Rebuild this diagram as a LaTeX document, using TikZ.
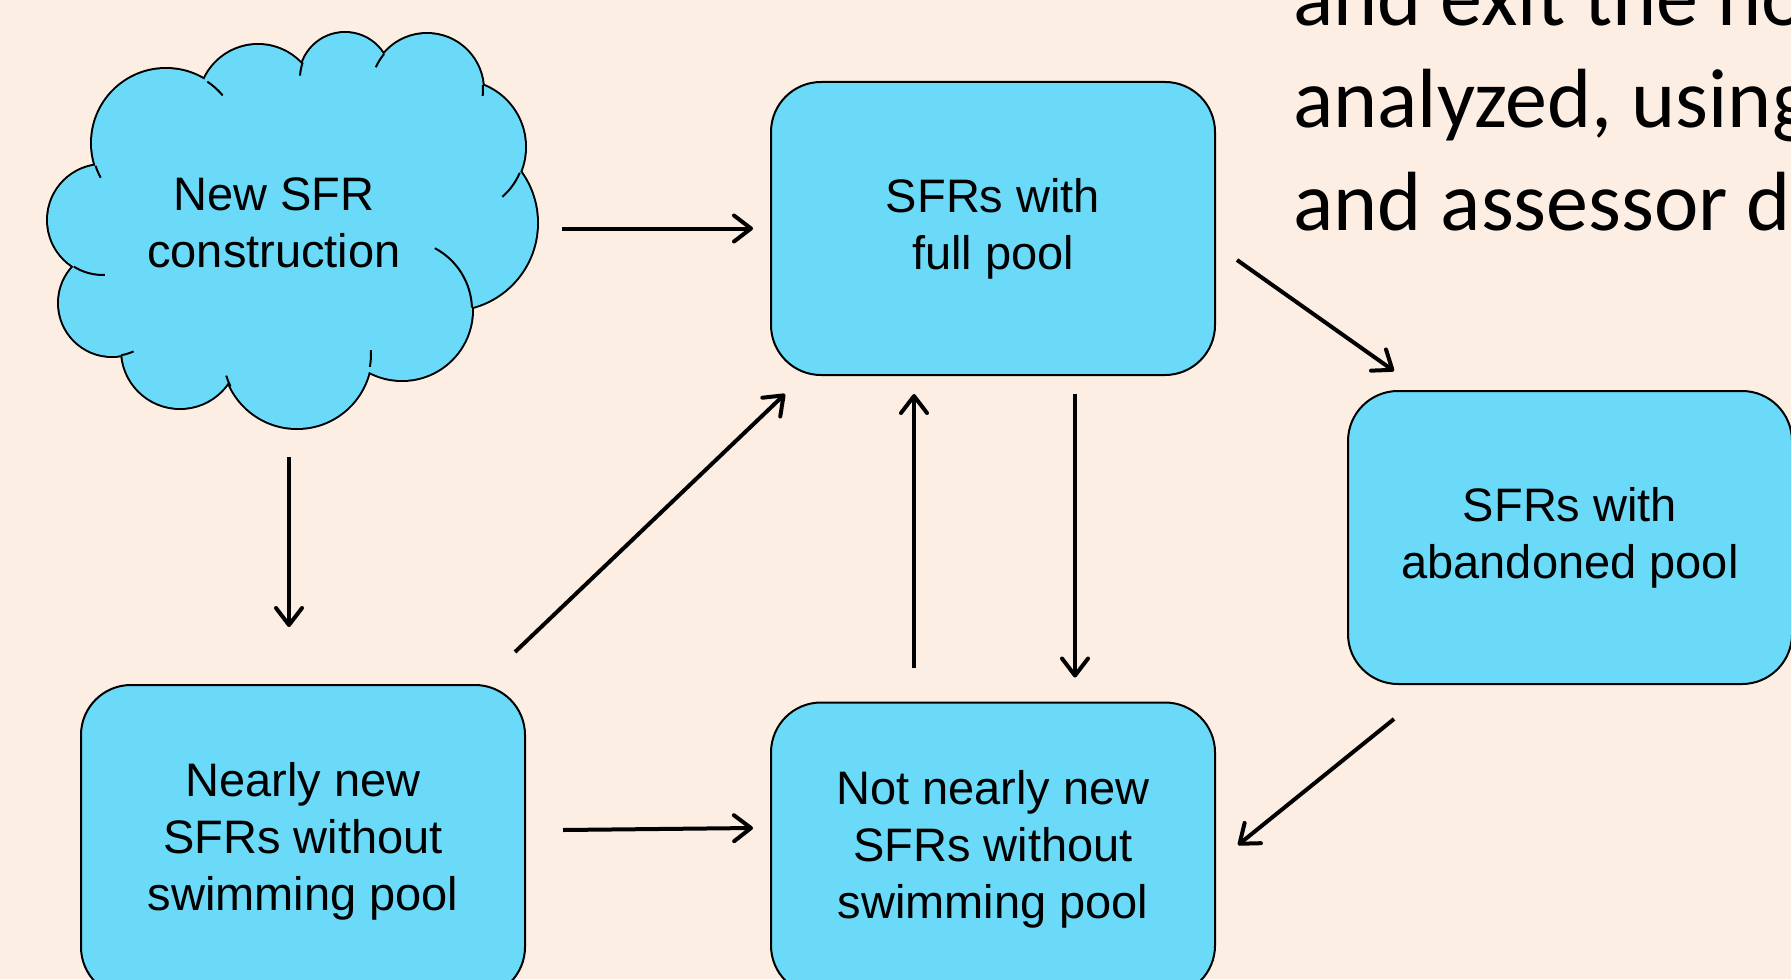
\documentclass[tikz,border=0pt]{standalone}
\usepackage{fontspec}
\setmainfont{Liberation Sans}
\newfontfamily\calib{Carlito}
\usetikzlibrary{arrows.meta}
\definecolor{bgpeach}{RGB}{253,238,228}
\definecolor{poolblue}{RGB}{106,218,248}
\tikzset{
  stock/.style={draw,fill=poolblue,line width=1pt,rounded corners=25pt,
    minimum width=222pt,minimum height=146.5pt,align=center,
    font=\fontsize{23.5}{28.5}\selectfont},
  flow/.style={line width=2pt,-{Straight Barb[length=8.5pt,width=13pt,round]}},
}
\begin{document}
\begin{tikzpicture}[x=0.5pt,y=-0.5pt]
\useasboundingbox (0,0) rectangle (1791,979);
\fill[bgpeach] (0,0) rectangle (1791,979);
\clip (0,0) rectangle (1791,979);

% cloud: union of puffs, outline first then fill on top
\foreach \cx/\cy/\r in {166/143/74,258/104/59,345/78/45,427/90/56,459/147/66,
    450/223/87,402/310/70,297/354/74,180/350/58,112/303/53,103/220/55}
  \draw[line width=2pt] (\cx,\cy) circle[radius=\r];
\foreach \cx/\cy/\r in {166/143/74,258/104/59,345/78/45,427/90/56,459/147/66,
    450/223/87,402/310/70,297/354/74,180/350/58,112/303/53,103/220/55}
  \fill[poolblue] (\cx,\cy) circle[radius=\r];
\fill[poolblue] (166,143) -- (258,104) -- (345,78) -- (427,90) -- (459,147) -- (450,223)
  -- (402,310) -- (297,354) -- (180,350) -- (112,303) -- (103,220) -- cycle;
% small inner strokes of the puffs
\foreach \cx/\cy/\r/\a/\b in {166/143/74/-56/-40,345/78/45/200/183,427/90/56/220/204,
    427/90/56/-5/6,459/147/66/23/49,402/310/70/-2/-62,297/354/74/10/-3,
    297/354/74/154/163,112/303/53/80/66,103/220/55/122/88,166/143/74/162/152}
  \draw[line width=1pt] (\cx,\cy) ++(\a:\r) arc[start angle=\a,end angle=\b,radius=\r];
\node[minimum width=244.5pt,minimum height=197.5pt] (cloud) at (292,231) {};
\node[align=center,font=\fontsize{23.5}{28.5}\selectfont] (cloudtext) at (274,223) {New SFR\\construction};

% stocks of houses
\node[stock] (full) at (993,228.5) {SFRs with\\full pool};
\node[stock] (aband) at (1570,537.5) {SFRs with\\abandoned pool};
\node[stock,minimum height=156pt] (nearly) at (303,841) {Nearly new\\SFRs without\\swimming pool};
\node[stock] (notnearly) at (993,849) {Not nearly new\\SFRs without\\swimming pool};

% slide text behind
\node[anchor=base west,align=left,inner sep=0pt,
  font=\calib\fontsize{42}{51.25}\selectfont] (note) at (1293,230)
  {and exit the ho\\analyzed, using\\and assessor d};

% transitions
\draw[flow] ([xshift=12.5pt]cloud.east |- full.west) -- ([xshift=-8.5pt]full.west);
\draw[flow] ([xshift=-1.5pt,yshift=-14pt]cloud.south) -- ([xshift=-1.5pt,yshift=28.5pt]cloud.south |- nearly.north);
\draw[flow] ([xshift=-5.5pt,yshift=16pt]nearly.north east) -- ([xshift=7.5pt,yshift=-9pt]full.south west);
\draw[flow] ([xshift=10.5pt,yshift=-15.75pt]full.east) -- ([xshift=23.5pt,yshift=9.5pt]aband.north west);
\draw[flow] ([xshift=-39.5pt,yshift=17pt]notnearly.north) -- ([xshift=-39.5pt,yshift=-9pt]full.south);
\draw[flow] ([xshift=41pt,yshift=-9pt]full.south) -- ([xshift=41pt,yshift=12pt]notnearly.north);
\draw[flow] ([xshift=18.5pt,yshift=5.5pt]nearly.east) -- ([xshift=-8.5pt,yshift=10.5pt]notnearly.west);
\draw[flow] ([xshift=23.5pt,yshift=-17pt]aband.south west) -- ([xshift=11pt,yshift=2pt]notnearly.east);
\end{tikzpicture}
\end{document}
